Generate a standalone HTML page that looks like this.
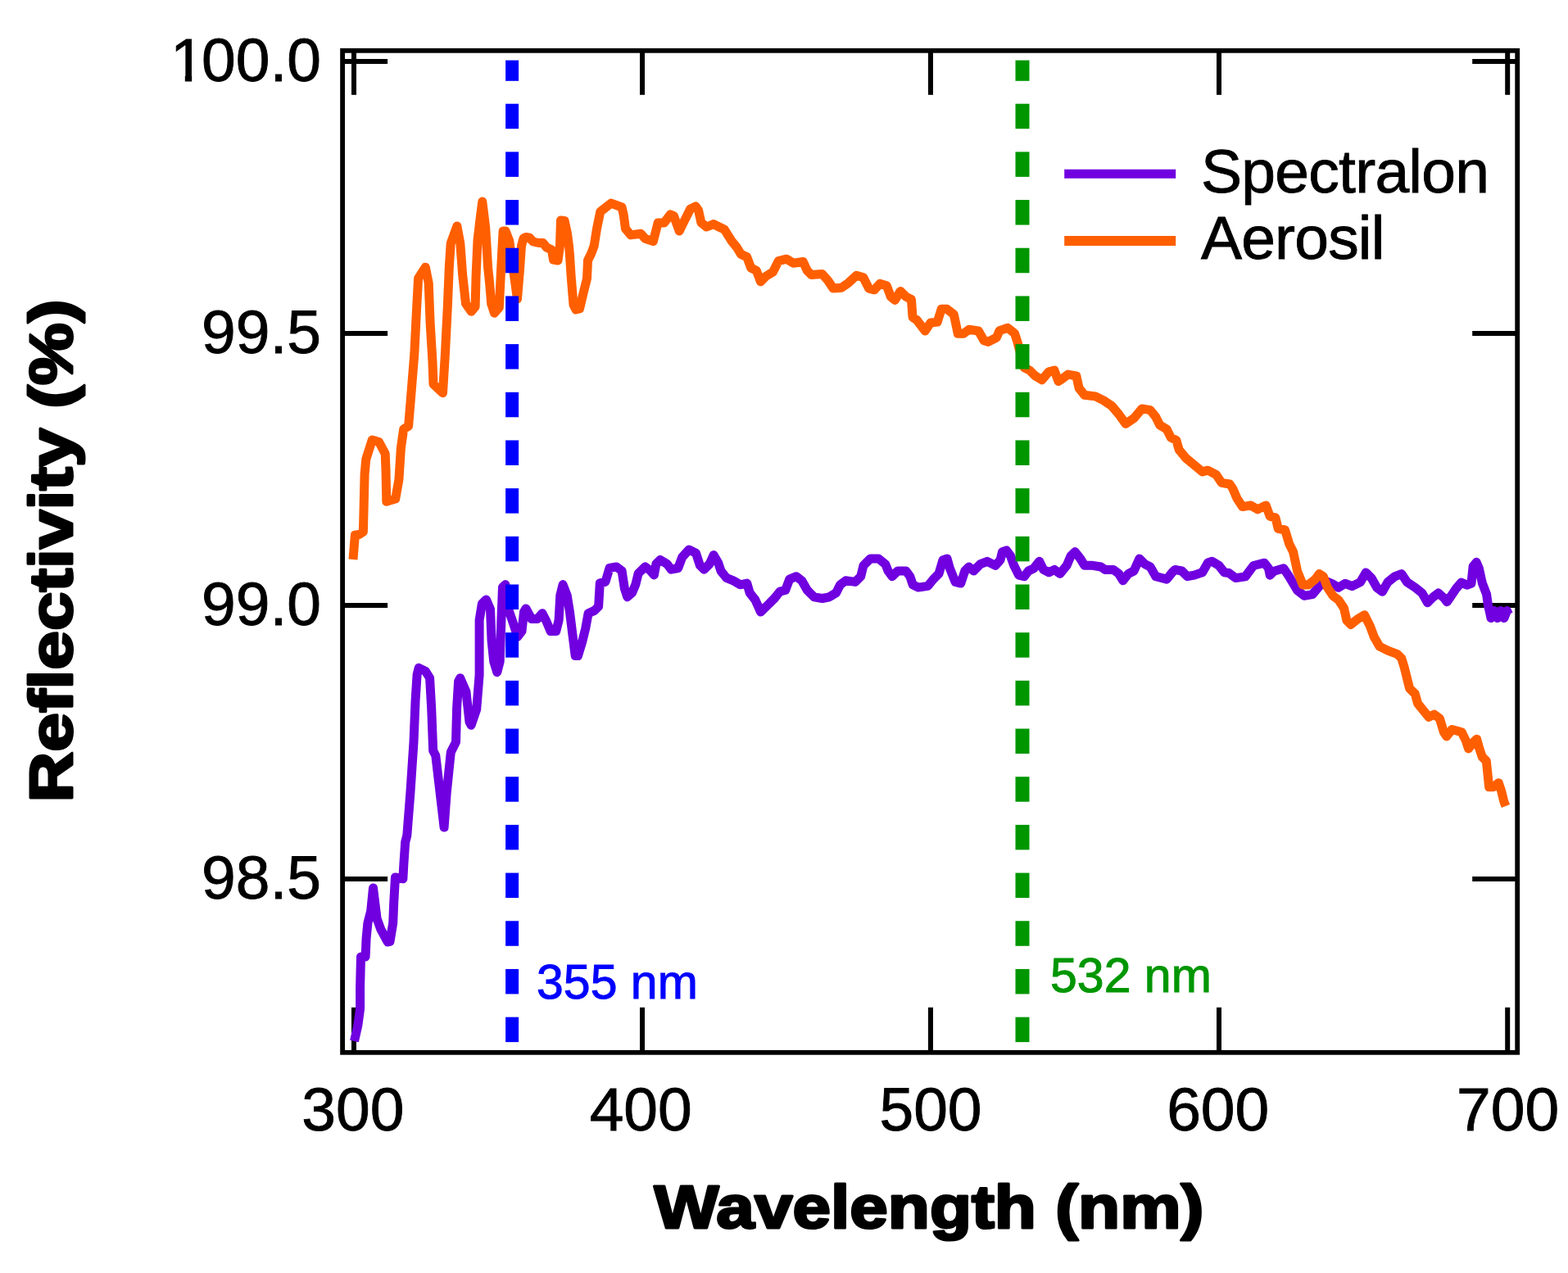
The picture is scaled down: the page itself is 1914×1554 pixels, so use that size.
<!DOCTYPE html>
<html><head><meta charset="utf-8"><title>Reflectivity</title>
<style>html,body{margin:0;padding:0;background:#fff;}body{width:1914px;height:1554px;overflow:hidden;}svg{display:block;}</style>
</head><body>
<svg width="1914" height="1554" viewBox="0 0 1914 1554">
<rect x="0" y="0" width="1914" height="1554" fill="#fff"/>
<g stroke="#000" stroke-width="6" fill="none" stroke-linecap="butt">
<line x1="432" y1="61.8" x2="432" y2="115.8"/>
<line x1="432" y1="1284.8" x2="432" y2="1229.8"/>
<line x1="784" y1="61.8" x2="784" y2="115.8"/>
<line x1="784" y1="1284.8" x2="784" y2="1229.8"/>
<line x1="1136" y1="61.8" x2="1136" y2="115.8"/>
<line x1="1136" y1="1284.8" x2="1136" y2="1229.8"/>
<line x1="1488" y1="61.8" x2="1488" y2="115.8"/>
<line x1="1488" y1="1284.8" x2="1488" y2="1229.8"/>
<line x1="1840.2" y1="61.8" x2="1840.2" y2="115.8"/>
<line x1="1840.2" y1="1284.8" x2="1840.2" y2="1229.8"/>
<line x1="418.1" y1="75" x2="473.1" y2="75"/>
<line x1="1852.2" y1="75" x2="1797.2" y2="75"/>
<line x1="418.1" y1="407" x2="473.1" y2="407"/>
<line x1="1852.2" y1="407" x2="1797.2" y2="407"/>
<line x1="418.1" y1="739" x2="473.1" y2="739"/>
<line x1="1852.2" y1="739" x2="1797.2" y2="739"/>
<line x1="418.1" y1="1073" x2="473.1" y2="1073"/>
<line x1="1852.2" y1="1073" x2="1797.2" y2="1073"/>
<rect x="418.1" y="61.8" width="1434.1" height="1223.0" stroke-width="5.8"/>
</g>
<g fill="none" stroke-linejoin="round" stroke-linecap="butt">
<polyline points="432.5,1271.0 436.8,1251.9 439.6,1231.4 439.6,1205.3 440.5,1167.9 446.1,1167.9 447.1,1145.6 448.9,1126.9 452.7,1112.0 455.5,1084.0 460.1,1121.3 464.8,1134.4 473.2,1150.0 476.0,1149.3 479.7,1126.9 480.7,1102.6 482.5,1070.9 487.2,1071.8 491.9,1072.8 492.8,1056.0 494.7,1028.0 496.8,1020.0 500.9,967.7 505.0,905.9 507.1,854.5 509.1,823.6 511.2,815.3 519.4,819.4 524.6,827.7 526.7,864.7 528.7,916.2 531.8,922.4 535.9,957.4 542.1,1010.0 545.2,967.7 550.3,918.3 556.5,905.9 557.6,864.7 559.6,831.8 561.7,827.7 568.9,844.2 573.0,881.2 575.1,885.3 581.7,865.9 585.1,824.0 585.1,757.1 588.4,737.0 593.5,732.0 598.5,743.7 600.1,782.2 602.7,807.3 606.8,820.7 610.2,807.3 611.9,757.1 613.5,717.0 616.9,713.6 619.4,740.4 625.2,757.1 631.9,777.2 637.0,770.5 639.5,747.1 642.0,742.9 648.7,755.4 656.2,755.4 662.0,748.7 667.1,758.8 672.1,770.5 678.8,770.5 682.1,757.1 683.8,727.0 687.1,713.6 692.2,727.0 695.5,747.1 698.8,773.8 702.2,800.6 705.5,800.6 710.6,783.9 714.7,767.2 718.1,748.7 725.6,745.4 730.6,740.4 732.3,711.9 739.0,710.3 744.0,693.5 752.4,691.9 759.1,696.9 762.4,718.6 765.8,728.7 771.6,723.7 775.8,713.6 779.1,700.2 787.5,691.9 794.2,696.9 798.4,701.9 800.9,688.5 805.9,683.5 814.3,688.5 819.3,695.2 827.7,693.5 832.7,680.2 841.0,671.0 849.4,675.1 854.4,690.2 859.4,695.2 866.1,688.5 871.1,677.6 876.7,687.0 880.0,697.0 886.7,705.4 895.1,708.8 903.5,713.8 911.8,712.1 915.2,723.8 921.9,732.2 928.5,747.0 936.9,738.9 945.3,730.5 952.0,722.1 958.7,720.5 963.7,707.1 972.0,703.7 978.7,708.8 985.4,720.5 993.8,728.8 1003.8,730.5 1012.2,728.8 1020.6,723.8 1025.6,713.8 1032.3,708.8 1044.0,710.4 1050.7,703.7 1054.0,690.3 1062.4,682.0 1072.4,682.0 1080.8,688.7 1084.1,697.0 1089.1,703.7 1095.8,697.0 1105.9,697.0 1110.9,703.7 1114.2,713.8 1120.9,717.1 1132.6,715.4 1139.3,707.1 1146.0,700.4 1151.0,683.7 1156.1,682.0 1159.4,693.7 1166.1,710.4 1172.8,712.1 1177.8,697.0 1182.8,692.0 1188.4,697.0 1196.7,688.7 1205.1,685.3 1215.1,690.3 1221.0,683.7 1223.5,673.6 1228.5,671.9 1233.5,678.6 1237.7,690.3 1243.6,702.1 1250.3,703.7 1255.3,697.0 1262.0,693.7 1268.7,685.3 1273.7,695.4 1280.4,698.7 1287.1,695.4 1293.8,700.4 1302.1,690.3 1307.1,678.6 1312.2,673.6 1318.8,682.0 1323.9,690.3 1333.9,690.3 1343.9,692.0 1349.0,695.4 1359.0,695.4 1365.7,700.4 1370.7,708.8 1377.4,700.4 1384.1,697.0 1390.8,682.0 1397.5,688.7 1404.1,692.0 1410.8,703.7 1424.2,707.1 1430.9,698.7 1434.3,695.4 1442.6,697.0 1449.3,703.7 1457.7,702.1 1467.7,698.7 1474.4,687.0 1479.4,685.3 1487.8,690.3 1494.5,698.7 1500.0,699.5 1508.4,705.6 1520.1,703.9 1530.1,690.5 1543.5,687.2 1548.5,693.8 1550.2,702.2 1555.2,697.2 1566.9,693.8 1573.6,703.9 1583.6,720.6 1592.0,727.3 1602.0,725.6 1610.4,715.6 1617.1,708.9 1625.5,712.3 1633.8,717.3 1642.2,712.3 1650.5,715.6 1660.6,710.6 1667.3,698.9 1674.0,705.6 1680.7,717.3 1687.4,722.3 1694.0,710.6 1702.4,703.9 1710.8,700.5 1717.5,710.6 1727.5,717.3 1735.9,724.0 1742.6,735.7 1749.2,729.0 1755.9,724.0 1762.6,730.0 1766.2,734.7 1771.3,727.5 1777.5,718.3 1783.7,711.1 1790.9,714.2 1796.0,712.1 1798.1,691.5 1802.2,686.3 1805.3,693.6 1809.4,712.1 1814.6,725.5 1816.6,740.0 1818.0,745.0 1820.0,754.5 1824.0,745.5 1828.0,754.5 1832.0,745.5 1836.0,754.5 1839.5,745.5 1841.5,750.0" stroke="#7000E0" stroke-width="11"/>
<polyline points="431.0,683.0 433.4,653.3 438.4,652.5 443.4,649.1 445.1,578.9 446.8,560.5 454.3,537.0 462.6,539.5 470.2,553.8 471.0,573.8 471.8,612.3 482.7,609.0 486.9,585.6 489.4,547.1 492.7,523.7 498.6,520.3 501.1,490.2 505.8,432.4 508.7,374.4 510.6,339.7 519.3,326.2 523.2,345.5 525.1,393.7 528.0,442.0 529.0,469.0 540.5,479.7 543.4,432.4 546.3,374.4 548.3,326.2 550.2,297.2 557.9,276.0 561.8,297.2 564.7,335.8 568.5,370.6 575.3,380.2 580.1,374.4 581.1,335.8 583.0,293.4 585.9,268.3 588.8,246.1 592.7,277.9 595.6,326.2 597.7,346.5 599.7,370.7 603.5,382.2 609.3,375.5 611.2,336.9 612.7,307.9 614.1,281.9 617.0,281.9 621.7,293.7 631.5,364.9 634.4,330.0 636.5,300.0 639.0,291.0 642.0,289.5 646.4,290.2 650.8,295.0 657.4,296.5 662.8,296.5 667.2,302.0 673.5,305.0 675.5,317.0 681.0,318.0 683.5,300.0 684.5,269.0 689.1,269.4 692.4,284.7 694.6,301.1 695.5,312.0 697.3,339.4 700.0,372.0 703.0,378.0 707.5,377.0 712.0,358.0 716.5,340.0 717.5,318.0 721.9,309.0 725.2,300.0 728.5,279.2 732.8,258.4 738.3,254.1 746.0,248.1 759.1,253.0 761.3,262.8 763.5,279.2 770.0,286.9 782.3,285.3 787.4,291.2 797.4,294.5 803.2,271.9 810.8,271.9 818.3,261.9 822.5,263.6 829.2,282.0 834.2,271.9 842.6,255.2 849.2,251.9 852.6,256.9 855.9,271.9 862.6,277.0 871.0,273.6 877.7,277.0 884.4,280.3 892.7,293.7 899.4,302.0 904.5,310.4 911.7,313.6 916.7,327.0 923.4,330.4 928.4,343.8 935.1,337.1 943.5,332.0 950.2,318.7 960.2,316.2 968.6,321.2 980.3,319.5 985.3,330.4 990.3,335.4 1003.7,334.6 1010.4,342.1 1017.1,352.1 1027.1,351.3 1035.5,345.4 1045.5,336.2 1053.9,338.7 1060.6,352.1 1067.3,353.8 1074.0,346.3 1082.3,348.8 1087.4,362.2 1092.4,366.4 1099.1,355.5 1105.8,362.2 1112.4,365.5 1114.1,387.3 1119.1,390.6 1129.2,404.0 1135.9,394.0 1144.2,393.1 1149.2,377.2 1155.9,377.2 1164.3,383.9 1169.3,407.3 1176.0,407.3 1182.7,402.3 1194.4,404.0 1201.1,415.7 1206.1,417.4 1216.5,412.0 1220.0,403.6 1230.1,400.2 1238.5,407.0 1241.8,417.0 1250.2,448.8 1256.9,452.1 1263.6,458.8 1271.9,463.8 1280.3,453.8 1287.0,452.1 1292.0,465.5 1297.0,462.1 1303.7,457.1 1313.8,458.8 1317.1,473.8 1323.8,482.2 1337.2,483.9 1347.2,488.9 1357.2,495.6 1365.6,505.6 1374.0,517.3 1384.0,510.7 1394.0,498.9 1404.1,500.6 1410.8,509.0 1415.8,519.0 1424.2,524.0 1429.2,534.1 1435.9,537.4 1439.2,549.1 1447.6,559.2 1457.6,567.5 1467.6,575.9 1474.3,574.2 1484.4,579.3 1491.1,589.3 1501.1,591.0 1505.0,596.8 1510.0,608.5 1516.7,618.6 1526.8,616.9 1535.1,621.9 1545.2,616.9 1550.2,630.3 1556.9,631.9 1560.2,645.3 1568.6,647.0 1573.6,663.7 1578.6,673.8 1583.6,697.2 1590.3,713.9 1597.0,713.9 1605.4,707.2 1610.4,700.5 1615.4,703.9 1620.4,717.3 1627.1,727.3 1633.8,732.3 1640.5,742.4 1643.9,757.4 1648.9,762.4 1657.2,755.7 1665.6,750.7 1672.3,764.1 1677.3,777.5 1684.0,789.2 1694.0,794.2 1705.8,798.6 1710.8,803.6 1714.1,814.3 1717.2,826.9 1720.6,840.3 1727.3,847.0 1730.6,858.7 1737.3,867.1 1744.0,875.4 1750.7,872.1 1757.4,877.1 1762.4,893.8 1765.8,898.9 1772.4,890.5 1784.2,893.8 1789.2,903.9 1792.5,913.9 1797.5,907.2 1802.6,902.2 1805.9,913.9 1809.3,924.0 1814.3,929.0 1815.9,944.0 1817.6,960.8 1822.6,960.8 1829.3,955.7 1832.7,965.8 1836.0,979.2 1838.0,984.0" stroke="#FF5F00" stroke-width="11"/>
</g>
<rect x="617.10" y="73.60" width="16" height="25.20" fill="#0000FF"/>
<rect x="617.10" y="126.70" width="16" height="30.50" fill="#0000FF"/>
<rect x="617.10" y="185.38" width="16" height="30.50" fill="#0000FF"/>
<rect x="617.10" y="244.06" width="16" height="30.50" fill="#0000FF"/>
<rect x="617.10" y="302.74" width="16" height="30.50" fill="#0000FF"/>
<rect x="617.10" y="361.42" width="16" height="30.50" fill="#0000FF"/>
<rect x="617.10" y="420.10" width="16" height="30.50" fill="#0000FF"/>
<rect x="617.10" y="478.78" width="16" height="30.50" fill="#0000FF"/>
<rect x="617.10" y="537.46" width="16" height="30.50" fill="#0000FF"/>
<rect x="617.10" y="596.14" width="16" height="30.50" fill="#0000FF"/>
<rect x="617.10" y="654.82" width="16" height="30.50" fill="#0000FF"/>
<rect x="617.10" y="713.50" width="16" height="30.50" fill="#0000FF"/>
<rect x="617.10" y="772.18" width="16" height="30.50" fill="#0000FF"/>
<rect x="617.10" y="830.86" width="16" height="30.50" fill="#0000FF"/>
<rect x="617.10" y="889.54" width="16" height="30.50" fill="#0000FF"/>
<rect x="617.10" y="948.22" width="16" height="30.50" fill="#0000FF"/>
<rect x="617.10" y="1006.90" width="16" height="30.50" fill="#0000FF"/>
<rect x="617.10" y="1065.58" width="16" height="30.50" fill="#0000FF"/>
<rect x="617.10" y="1124.26" width="16" height="30.50" fill="#0000FF"/>
<rect x="617.10" y="1182.94" width="16" height="30.50" fill="#0000FF"/>
<rect x="617.10" y="1241.62" width="16" height="30.50" fill="#0000FF"/>
<rect x="1239.50" y="73.60" width="17" height="25.20" fill="#009600"/>
<rect x="1239.50" y="126.70" width="17" height="30.50" fill="#009600"/>
<rect x="1239.50" y="185.38" width="17" height="30.50" fill="#009600"/>
<rect x="1239.50" y="244.06" width="17" height="30.50" fill="#009600"/>
<rect x="1239.50" y="302.74" width="17" height="30.50" fill="#009600"/>
<rect x="1239.50" y="361.42" width="17" height="30.50" fill="#009600"/>
<rect x="1239.50" y="420.10" width="17" height="30.50" fill="#009600"/>
<rect x="1239.50" y="478.78" width="17" height="30.50" fill="#009600"/>
<rect x="1239.50" y="537.46" width="17" height="30.50" fill="#009600"/>
<rect x="1239.50" y="596.14" width="17" height="30.50" fill="#009600"/>
<rect x="1239.50" y="654.82" width="17" height="30.50" fill="#009600"/>
<rect x="1239.50" y="713.50" width="17" height="30.50" fill="#009600"/>
<rect x="1239.50" y="772.18" width="17" height="30.50" fill="#009600"/>
<rect x="1239.50" y="830.86" width="17" height="30.50" fill="#009600"/>
<rect x="1239.50" y="889.54" width="17" height="30.50" fill="#009600"/>
<rect x="1239.50" y="948.22" width="17" height="30.50" fill="#009600"/>
<rect x="1239.50" y="1006.90" width="17" height="30.50" fill="#009600"/>
<rect x="1239.50" y="1065.58" width="17" height="30.50" fill="#009600"/>
<rect x="1239.50" y="1124.26" width="17" height="30.50" fill="#009600"/>
<rect x="1239.50" y="1182.94" width="17" height="30.50" fill="#009600"/>
<rect x="1239.50" y="1241.62" width="17" height="30.50" fill="#009600"/>
<g font-family="'Liberation Sans', Arial, sans-serif" font-size="75" fill="#000" stroke="#000" stroke-width="0.9">
<text x="392" y="431.0" text-anchor="end">99.5</text><text x="392" y="763.0" text-anchor="end">99.0</text><text x="392" y="1097.0" text-anchor="end">98.5</text><text x="208" y="99.0" dx="0 -3.65">100.0</text>
<text x="430.8" y="1380" text-anchor="middle">300</text><text x="782.2" y="1380" text-anchor="middle">400</text><text x="1136.0" y="1380" text-anchor="middle">500</text><text x="1486.7" y="1380" text-anchor="middle">600</text><text x="1840.6" y="1380" text-anchor="middle">700</text>
<text x="1466" y="234.5" textLength="352" lengthAdjust="spacing">Spectralon</text>
<text x="1466" y="316" textLength="224.4" lengthAdjust="spacing">Aerosil</text>
</g>
<rect x="200" y="92.5" width="25.8" height="9" fill="#fff"/><rect x="234.2" y="92.5" width="12.8" height="9" fill="#fff"/>
<line x1="1299.2" y1="212.2" x2="1435.2" y2="212.2" stroke="#7000E0" stroke-width="11"/>
<line x1="1299.2" y1="293.9" x2="1435.2" y2="293.9" stroke="#FF5F00" stroke-width="12"/>
<g font-family="'Liberation Sans', Arial, sans-serif" font-size="59" stroke-width="1">
<text x="655" y="1218.5" fill="#0000FF" stroke="#0000FF">355 nm</text>
<text x="1282" y="1210.5" fill="#009600" stroke="#009600">532 nm</text>
</g>
<g font-family="'Liberation Sans', Arial, sans-serif" font-weight="bold" font-size="75" fill="#000" stroke="#000" stroke-width="3" stroke-linejoin="round">
<text x="1134" y="1499" text-anchor="middle" textLength="671" lengthAdjust="spacingAndGlyphs">Wavelength (nm)</text>
<text transform="translate(87.5,672.5) rotate(-90)" text-anchor="middle" textLength="614" lengthAdjust="spacingAndGlyphs">Reflectivity (%)</text>
</g>
</svg>
</body></html>
